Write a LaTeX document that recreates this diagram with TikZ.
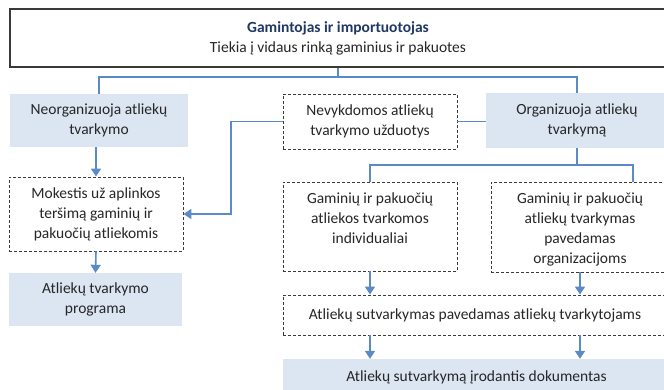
\documentclass[tikz,border=0pt]{standalone}
\usepackage{fontspec}
\setmainfont{Carlito}
\usetikzlibrary{arrows.meta}
\definecolor{fillblue}{HTML}{DCE5F2}
\definecolor{lineblue}{HTML}{5A8AC8}
\definecolor{titleblue}{HTML}{1F3864}
\definecolor{txt}{HTML}{262626}
\definecolor{dashgrey}{HTML}{3A3A3A}
\tikzset{
  base/.style={rectangle, inner sep=0pt, align=center, text=txt,
    font=\fontsize{15.5}{20}\selectfont},
  solidbox/.style={base, fill=fillblue},
  dbox/.style={base, draw=dashgrey, line width=0.9pt, dash pattern=on 3pt off 2pt},
  topbox/.style={base, draw=dashgrey, line width=1.1pt},
  conn/.style={draw=lineblue, line width=1.6pt},
  arr/.style={conn, -{Triangle[width=10pt,length=8pt]}},
}
\begin{document}
\begin{tikzpicture}[x=1pt,y=-1pt]
\useasboundingbox (0,0) rectangle (664,389);
\clip (0,0) rectangle (664,389);
\node[topbox, minimum width=656pt, minimum height=58pt] (top) at (338,38)
  {{\bfseries\color{titleblue}Gamintojas ir importuotojas}\\Tiekia į vidaus rinką gaminius ir pakuotes};
\node[solidbox, minimum width=178pt, minimum height=53pt] (neo) at (99,120.5)
  {Neorganizuoja atliekų\\tvarkymo};
\node[dbox, minimum width=174pt, minimum height=55pt] (nev) at (370,121.5)
  {Nevykdomos atliekų\\tvarkymo užduotys};
\node[solidbox, minimum width=182pt, minimum height=55pt] (org) at (577,120.5)
  {Organizuoja atliekų\\tvarkymą};
\node[dbox, minimum width=174pt, minimum height=74pt] (mok) at (96,214)
  {Mokestis už aplinkos\\teršimą gaminių ir\\pakuočių atliekomis};
\node[solidbox, minimum width=173pt, minimum height=53pt] (prog) at (95.5,299.5)
  {Atliekų tvarkymo\\programa};
\node[dbox] (ind) at (370,226.5)
  {\parbox[c][89pt][t]{174pt}{\vspace*{11pt}\centering Gaminių ir pakuočių\\atliekos tvarkomos\\individualiai}};
\node[dbox] (orgz) at (580,227)
  {\parbox[c][90pt][t]{178pt}{\vspace*{11pt}\centering Gaminių ir pakuočių\\atliekų tvarkymas\\pavedamas\\organizacijoms}};
\node[dbox, minimum width=384pt, minimum height=40pt] (sut) at (475,315)
  {Atliekų sutvarkymas pavedamas atliekų tvarkytojams};
\node[solidbox, minimum width=387pt, minimum height=36pt] (dok) at (476.5,377)
  {Atliekų sutvarkymą įrodantis dokumentas};
% junction coordinates
\coordinate (j1) at (338,77);
\coordinate (c1) at (231,214);
\coordinate (k) at (633,165);
% connectors
\draw[conn] (top.south) -- (top.south |- j1);
\draw[conn] (neo.north) -- (neo.north |- j1) -- (org.north |- j1) -- (org.north);
\draw[conn] (nev.east) -- (org.west |- nev.east);
\draw[arr] (nev.west) -- (nev.west -| c1) -- (c1) -- (mok.east);
\draw[arr] (neo.south -| mok.north) -- (mok.north);
\draw[arr] (mok.south) -- (prog.north);
\draw[conn] (org.south) -- (org.south |- k);
\draw[conn] (ind.north) -- (ind.north |- k) -- (k) -- (k |- orgz.north);
\draw[arr] (ind.south) -- (ind.south |- sut.north);
\draw[arr] (orgz.south) -- (orgz.south |- sut.north);
\draw[arr] (ind.south |- sut.south) -- (ind.south |- dok.north);
\draw[arr] (orgz.south |- sut.south) -- (orgz.south |- dok.north);
\end{tikzpicture}
\end{document}
